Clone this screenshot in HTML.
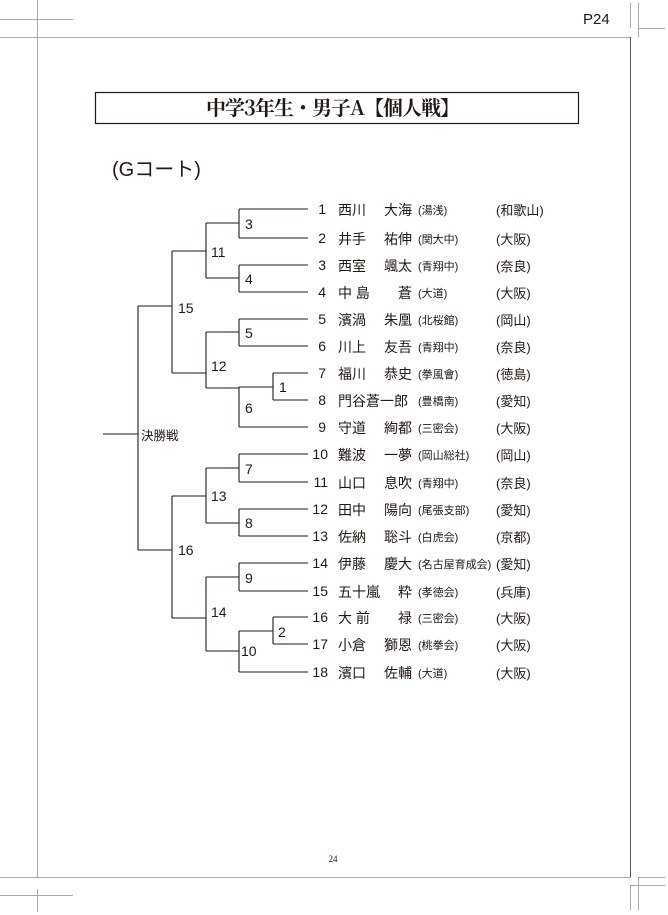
<!DOCTYPE html>
<html><head><meta charset="utf-8"><style>
html,body{margin:0;padding:0;background:#fff;}
svg{display:block;}
.s{font-family:"Liberation Sans","Noto Sans CJK JP",sans-serif;fill:#231815;}
</style></head><body>
<svg width="668" height="915" viewBox="0 0 668 915" xmlns="http://www.w3.org/2000/svg">
<g stroke="#aaa" stroke-width="1" fill="none">
<line x1="0" y1="37.5" x2="631" y2="37.5"/>
<line x1="0" y1="877.5" x2="631" y2="877.5"/>
<line x1="37.5" y1="0" x2="37.5" y2="877"/>
<line x1="37.5" y1="889" x2="37.5" y2="912"/>
<line x1="0" y1="19.5" x2="73" y2="19.5"/>
<line x1="0" y1="895.5" x2="73" y2="895.5"/>
<line x1="630.5" y1="3" x2="630.5" y2="28"/>
<line x1="638.5" y1="3" x2="638.5" y2="37"/>
<line x1="638" y1="28.5" x2="665" y2="28.5"/>
<line x1="638" y1="877.5" x2="665" y2="877.5"/>
<line x1="630" y1="885.5" x2="665" y2="885.5"/>
<line x1="630.5" y1="885" x2="630.5" y2="910"/>
<line x1="638.5" y1="877" x2="638.5" y2="910"/>
</g>
<line x1="630.5" y1="37" x2="630.5" y2="877" stroke="#555" stroke-width="1"/>
<text x="583" y="24" class="s" font-size="15">P24</text>
<rect x="95.5" y="92.5" width="483" height="31" fill="none" stroke="#231815" stroke-width="1.2"/>
<text x="333" y="115" text-anchor="middle" font-family="'Noto Serif CJK SC','Liberation Serif',serif" font-weight="bold" font-size="20" fill="#231815" textLength="254">中学3年生・男子A【個人戦】</text>
<text x="112" y="176" class="s" font-size="20">(Gコート)</text>
<text x="333" y="862" text-anchor="middle" font-family="'Liberation Serif',serif" font-size="9" fill="#231815">24</text>
<g stroke="#231815" stroke-width="1.1" fill="none">
<path d="M239 209H308M239 238H308M239 265H308M239 292H308M239 319H308M239 346H308M273 373H308M273 400H308M239 427H308M239 454H308M239 482H308M239 509H308M239 536H308M239 563H308M239 591H308M273 617H308M273 644H308M239 672H308"/>
<path d="M239 209V238M239 265V292M239 319V346M273 373V400M239 454V482M239 509V536M239 563V591M273 617V644"/>
<path d="M239 387H273M239 387V427M239 631H273M239 631V672"/>
<path d="M206 223H239M206 278H239M206 223V278M206 332H239M206 388H239M206 332V388"/>
<path d="M206 468H239M206 523H239M206 468V523M206 577H239M206 651H239M206 577V651"/>
<path d="M172 251H206M172 373H206M172 251V373M172 496H206M172 618H206M172 496V618"/>
<path d="M138 306H172M138 550H172M138 306V550M103 434H138"/>
</g>
<g class="s" font-size="14">
<text x="245" y="229">3</text><text x="245" y="284">4</text><text x="245" y="338">5</text><text x="245" y="413">6</text>
<text x="279" y="392">1</text>
<text x="211" y="257">11</text><text x="211" y="371">12</text><text x="178" y="313">15</text>
<text x="245" y="474">7</text><text x="245" y="528">8</text><text x="245" y="583">9</text><text x="241" y="656">10</text>
<text x="278" y="637">2</text>
<text x="211" y="501">13</text><text x="211" y="617">14</text><text x="178" y="555">16</text>
<text x="141" y="440" font-size="12.5">決勝戦</text>
</g>
<g class="s">
<g font-size="14" text-anchor="end">
<text x="326" y="214">1</text><text x="326" y="243">2</text><text x="326" y="270">3</text><text x="326" y="297">4</text><text x="326" y="324">5</text><text x="326" y="351">6</text><text x="326" y="378">7</text><text x="326" y="405">8</text><text x="326" y="432">9</text><text x="328" y="459">10</text><text x="328" y="487">11</text><text x="328" y="514">12</text><text x="328" y="541">13</text><text x="328" y="568">14</text><text x="328" y="596">15</text><text x="328" y="622">16</text><text x="328" y="649">17</text><text x="328" y="677">18</text>
</g>
<g font-size="14">
<text x="338" y="215">西川</text><text x="338" y="244">井手</text><text x="338" y="271">西室</text><text x="338" y="298">中 島</text><text x="338" y="325">濱渦</text><text x="338" y="352">川上</text><text x="338" y="379">福川</text><text x="338" y="406">門谷蒼一郎</text><text x="338" y="433">守道</text><text x="338" y="460">難波</text><text x="338" y="488">山口</text><text x="338" y="515">田中</text><text x="338" y="542">佐納</text><text x="338" y="569">伊藤</text><text x="338" y="597">五十嵐</text><text x="338" y="623">大 前</text><text x="338" y="650">小倉</text><text x="338" y="678">濱口</text>
</g>
<g font-size="14" text-anchor="end">
<text x="412" y="215">大海</text><text x="412" y="244">祐伸</text><text x="412" y="271">颯太</text><text x="412" y="298">蒼</text><text x="412" y="325">朱凰</text><text x="412" y="352">友吾</text><text x="412" y="379">恭史</text><text x="412" y="433">絢都</text><text x="412" y="460">一夢</text><text x="412" y="488">息吹</text><text x="412" y="515">陽向</text><text x="412" y="542">聡斗</text><text x="412" y="569">慶大</text><text x="412" y="597">粋</text><text x="412" y="623">禄</text><text x="412" y="650">獅恩</text><text x="412" y="678">佐輔</text>
</g>
<g font-size="11">
<text x="418" y="214">(湯浅)</text><text x="418" y="243">(関大中)</text><text x="418" y="270">(青翔中)</text><text x="418" y="297">(大道)</text><text x="418" y="324">(北桜館)</text><text x="418" y="351">(青翔中)</text><text x="418" y="378">(拳風會)</text><text x="418" y="405">(豊橋南)</text><text x="418" y="432">(三密会)</text><text x="418" y="459">(岡山総社)</text><text x="418" y="487">(青翔中)</text><text x="418" y="514">(尾張支部)</text><text x="418" y="541">(白虎会)</text><text x="418" y="568">(名古屋育成会)</text><text x="418" y="596">(孝徳会)</text><text x="418" y="622">(三密会)</text><text x="418" y="649">(桃拳会)</text><text x="418" y="677">(大道)</text>
</g>
<g font-size="13">
<text x="496" y="215">(和歌山)</text><text x="496" y="244">(大阪)</text><text x="496" y="271">(奈良)</text><text x="496" y="298">(大阪)</text><text x="496" y="325">(岡山)</text><text x="496" y="352">(奈良)</text><text x="496" y="379">(徳島)</text><text x="496" y="406">(愛知)</text><text x="496" y="433">(大阪)</text><text x="496" y="460">(岡山)</text><text x="496" y="488">(奈良)</text><text x="496" y="515">(愛知)</text><text x="496" y="542">(京都)</text><text x="496" y="569">(愛知)</text><text x="496" y="597">(兵庫)</text><text x="496" y="623">(大阪)</text><text x="496" y="650">(大阪)</text><text x="496" y="678">(大阪)</text>
</g>
</g>
</svg>
</body></html>
